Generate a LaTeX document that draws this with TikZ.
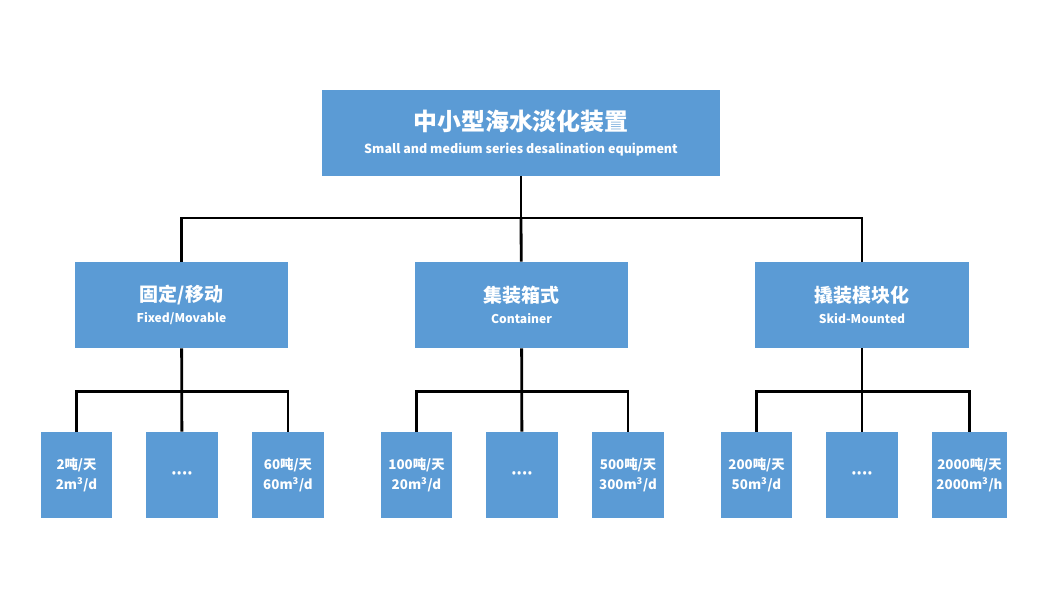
\documentclass[tikz,border=0pt]{standalone}
\usepackage{fontspec}
\setmainfont{Noto Sans CJK SC}
\newfontfamily\dotfont{Noto Sans}
\usetikzlibrary{positioning}
\usetikzlibrary{calc}
\definecolor{boxblue}{RGB}{91,155,213}

\begin{document}
\begin{tikzpicture}[x=0.025cm,y=-0.025cm,
    box/.style={fill=boxblue, text=white, font=\bfseries, align=center, inner sep=0pt},
    head/.style={box, minimum width=9.95cm, minimum height=2.15cm},
    branch/.style={box, minimum width=5.325cm, minimum height=2.15cm},
    leaf/.style={box, minimum width=1.775cm, minimum height=2.15cm, font=\bfseries\fontsize{9.5}{14.5}\selectfont},
    more/.style={leaf, font=\dotfont\bfseries\fontsize{10}{12}\selectfont},
    wire/.style={line width=2pt, draw=black}
  ]
\useasboundingbox (0,0) rectangle (1054,601);

% top level
\node[head] (top) at (521,133) {{\fontsize{17}{20}\selectfont 中小型海水淡化装置}\\[4pt]{\fontsize{8.9}{10}\selectfont Small and medium series desalination equipment}};

% second level
\node[branch] (fixed) at (181.5,305) {{\fontsize{13.5}{16}\selectfont 固定/移动}\\[2.5pt]{\fontsize{8.6}{10}\selectfont Fixed/Movable}};
\node[branch] (cont) at (521.5,305) {{\fontsize{13.5}{16}\selectfont 集装箱式}\\[2.5pt]{\fontsize{8.6}{10}\selectfont Container}};
\node[branch] (skid) at (862,305) {{\fontsize{13.5}{16}\selectfont 撬装模块化}\\[2.5pt]{\fontsize{8.6}{10}\selectfont Skid-Mounted}};

\coordinate (bus) at (521,218);
\draw[wire] (top) -- (bus);
\draw[wire] (fixed.north) |- (bus) -| (skid.north);
\draw[wire] (bus) -- (cont);

% third level
\node[leaf] (f1) at (76.5,475) {2吨/天\\2m\textsuperscript{3}/d};
\node[more] (f2) at (182,475) {••••};
\node[leaf] (f3) at (288,475) {60吨/天\\60m\textsuperscript{3}/d};

\node[leaf] (c1) at (416.5,475) {100吨/天\\20m\textsuperscript{3}/d};
\node[more] (c2) at (522,475) {••••};
\node[leaf] (c3) at (628,475) {500吨/天\\300m\textsuperscript{3}/d};

\node[leaf] (s1) at (756.5,475) {200吨/天\\50m\textsuperscript{3}/d};
\node[more] (s2) at (862,475) {••••};
\node[leaf, minimum width=1.875cm] (s3) at (969.5,475) {2000吨/天\\2000m\textsuperscript{3}/h};

\foreach \p/\a/\b/\c in {fixed/f1/f2/f3, cont/c1/c2/c3, skid/s1/s2/s3}{
  \coordinate (\p bus) at ($(\p.south)+(0,43)$);
  \draw[wire] (\p) -- (\b);
  \draw[wire] (\a.north) |- (\p bus) -| (\c.north);
}
\end{tikzpicture}
\end{document}
